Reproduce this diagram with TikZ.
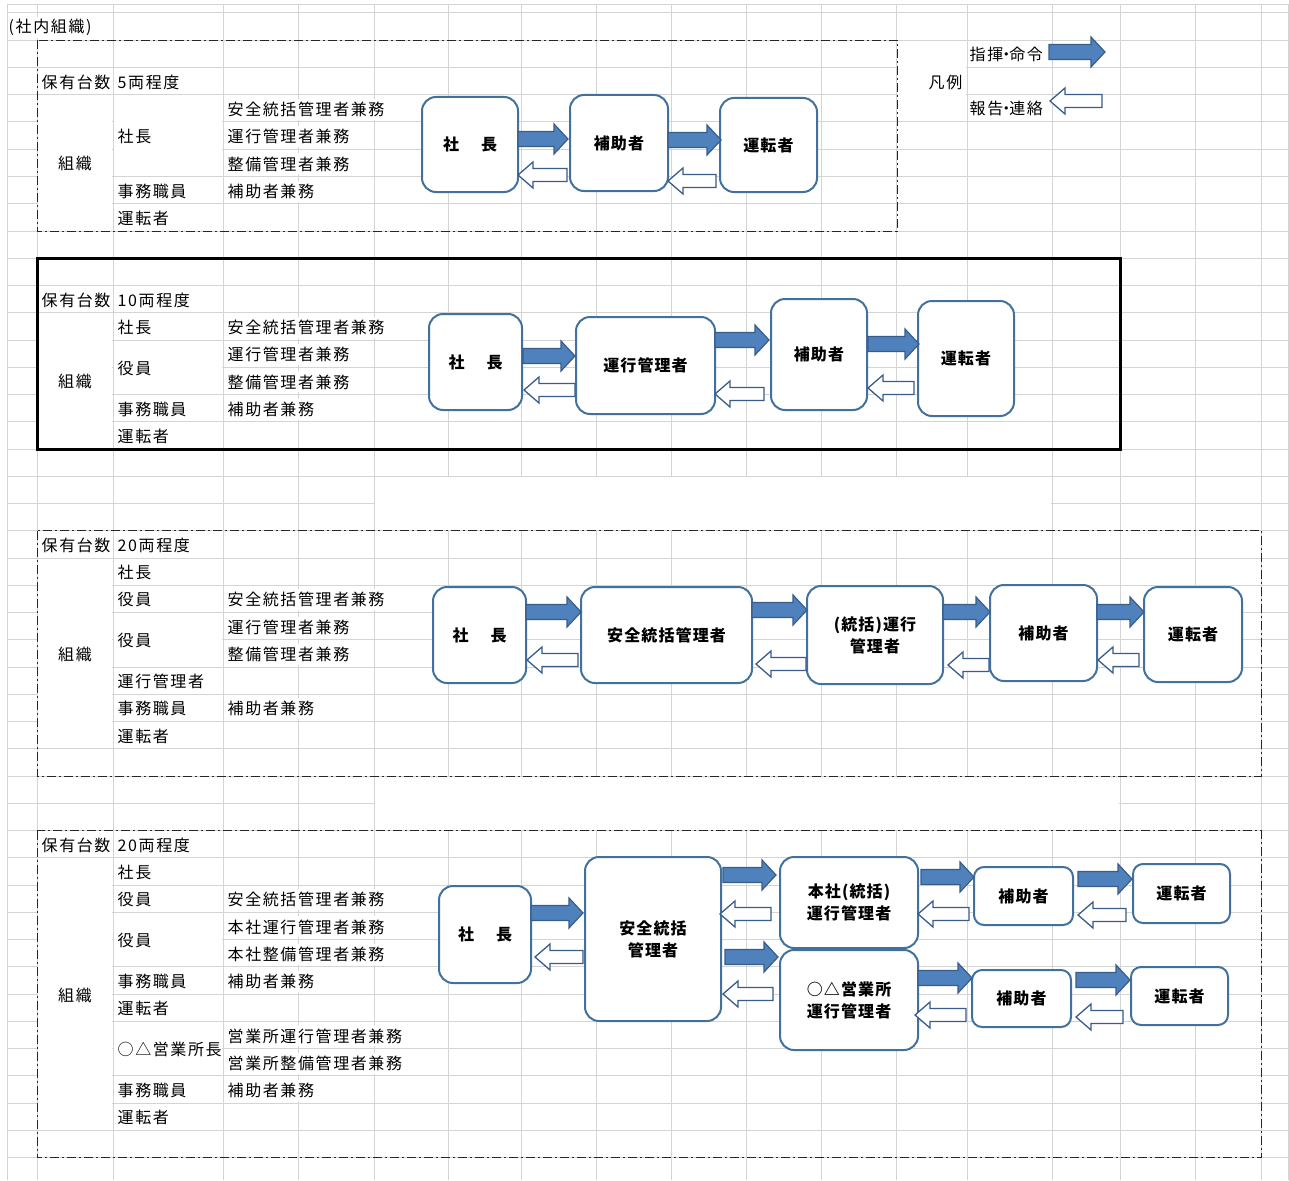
\documentclass[tikz,border=0pt]{standalone}
\usepackage{fontspec}
\newfontfamily\jp[LetterSpace=10]{Noto Sans CJK JP}
\newfontfamily\jpb[LetterSpace=7]{Noto Sans CJK JP}
\definecolor{gridc}{HTML}{D4D4D4}
\definecolor{boxc}{HTML}{41719C}
\definecolor{arrf}{HTML}{4F81BD}
\definecolor{arrd}{HTML}{385D8A}
\newcommand\FArrow[3]{\draw[farr] (#1,#3-7.5) -- ({#2-14},#3-7.5) -- ({#2-14},#3-15) -- (#2,#3) -- ({#2-14},#3+15) -- ({#2-14},#3+7.5) -- (#1,#3+7.5) -- cycle;}
\newcommand\OArrow[3]{\draw[oarr] (#1,#3-6.5) -- ({#2+15},#3-6.5) -- ({#2+15},#3-13) -- (#2,#3) -- ({#2+15},#3+13) -- ({#2+15},#3+6.5) -- (#1,#3+6.5) -- cycle;}
\newcommand\Mask[4]{\fill[white] ({#1+1},{#2+1}) rectangle ({#3-1},{#4-1});}
\newcommand\nd{\hspace{-5pt}・\hspace{-5pt}}
\tikzset{
 gridl/.style={draw=gridc, line width=1pt},
 celltxt/.style={anchor=west, font=\jp\fontsize{16}{16}\selectfont, fill=white, inner xsep=0.5pt, inner ysep=0pt, minimum height=21pt},
 ctrtxt/.style={font=\jp\fontsize{16}{16}\selectfont, inner sep=0pt},
 box/.style={draw=boxc, line width=2pt, fill=white, rounded corners=14pt, align=center, font=\jpb\bfseries\fontsize{16}{22}\selectfont, inner sep=0pt},
 sbox/.style={box, rounded corners=10pt},
 farr/.style={fill=arrf, draw=arrd, line width=1.2pt, line join=miter},
 oarr/.style={fill=white, draw=arrd, line width=1.3pt, line join=miter},
 dframe/.style={draw=black!85, line width=1pt, dash pattern=on 9pt off 3pt on 2pt off 3pt},
 tframe/.style={draw=black, line width=3pt}
}
\begin{document}
\begin{tikzpicture}[x=1pt,y=-1pt]
\useasboundingbox (0,0) rectangle (1289,1180);
\fill[white] (0,0) rectangle (1289,1180);
% ---------------- grid ----------------
\foreach \x in {7,37,113,223,298,374,448,521,596,671,746,821,896,967,1052,1120,1195,1261,1288}
  \draw[gridl] (\x,5) -- (\x,1180);
\draw[gridl] (7,5) -- (1289,5);
\foreach \k in {0,...,42}
  \draw[gridl] (7,{13+27.25*\k}) -- (1289,{13+27.25*\k});
% merged cells
\Mask{37}{94.75}{113}{231}
\Mask{113}{94.75}{223}{176.5}
\Mask{897}{40.25}{967}{122}
\Mask{37}{312.75}{113}{449}
\Mask{113}{340}{223}{394.5}
\Mask{374}{476.25}{1052}{530.75}
\Mask{37}{558}{113}{748.75}
\Mask{113}{612.5}{223}{667}
\Mask{374}{776}{1120}{830.5}
\Mask{37}{857.75}{113}{1130.25}
\Mask{113}{912.25}{223}{966.75}
\Mask{113}{1021.25}{223}{1075.75}
% ---------------- frames ----------------
\draw[dframe] (37,40.25) rectangle (897,231);
\draw[tframe] (37,258.25) rectangle (1120,449);
\draw[dframe] (37,530.75) rectangle (1261,776);
\draw[dframe] (37,830.5) rectangle (1261,1157.5);
% ---------------- texts ----------------
\node[celltxt] (title) at (8,27.6) {(社内組織)};
% section 1
\node[celltxt] (a1) at (41,82.1) {保有台数};
\node[celltxt] (a2) at (117,82.1) {5両程度};
\node[ctrtxt] (a3) at (75,163.5) {組織};
\node[celltxt] (a4) at (117,136) {社長};
\node[celltxt] (a5) at (227,109.4) {安全統括管理者兼務};
\node[celltxt] (a6) at (227,136.6) {運行管理者兼務};
\node[celltxt] (a7) at (227,163.9) {整備管理者兼務};
\node[celltxt] (a8) at (117,191.1) {事務職員};
\node[celltxt] (a9) at (227,191.1) {補助者兼務};
\node[celltxt] (a10) at (117,218.4) {運転者};
% legend
\node[celltxt, anchor=east] (l1) at (963,82) {凡例};
\node[celltxt] (l2) at (969,54.9) {指揮\nd 命令};
\node[celltxt] (l3) at (969,108.5) {報告\nd 連絡};
% section 2
\node[celltxt] (b1) at (41,300.1) {保有台数};
\node[celltxt] (b2) at (117,300.1) {10両程度};
\node[ctrtxt] (b3) at (75,381.9) {組織};
\node[celltxt] (b4) at (117,327.4) {社長};
\node[celltxt] (b5) at (227,327.4) {安全統括管理者兼務};
\node[celltxt] (b6) at (117,368) {役員};
\node[celltxt] (b7) at (227,354.6) {運行管理者兼務};
\node[celltxt] (b8) at (227,381.9) {整備管理者兼務};
\node[celltxt] (b9) at (117,409.1) {事務職員};
\node[celltxt] (b10) at (227,409.1) {補助者兼務};
\node[celltxt] (b11) at (117,436.4) {運転者};
% section 3
\node[celltxt] (c1) at (41,545.4) {保有台数};
\node[celltxt] (c2) at (117,545.4) {20両程度};
\node[ctrtxt] (c3) at (75,654.4) {組織};
\node[celltxt] (c4) at (117,572.6) {社長};
\node[celltxt] (c5) at (117,599.9) {役員};
\node[celltxt] (c6) at (227,599.9) {安全統括管理者兼務};
\node[celltxt] (c7) at (117,640.7) {役員};
\node[celltxt] (c8) at (227,627.1) {運行管理者兼務};
\node[celltxt] (c9) at (227,654.4) {整備管理者兼務};
\node[celltxt] (c10) at (117,681.6) {運行管理者};
\node[celltxt] (c11) at (117,708.9) {事務職員};
\node[celltxt] (c12) at (227,708.9) {補助者兼務};
\node[celltxt] (c13) at (117,736.1) {運転者};
% section 4
\node[celltxt] (d1) at (41,845.1) {保有台数};
\node[celltxt] (d2) at (117,845.1) {20両程度};
\node[ctrtxt] (d3) at (75,995) {組織};
\node[celltxt] (d4) at (117,872.4) {社長};
\node[celltxt] (d5) at (117,899.6) {役員};
\node[celltxt] (d6) at (227,899.6) {安全統括管理者兼務};
\node[celltxt] (d7) at (117,940.5) {役員};
\node[celltxt] (d8) at (227,926.9) {本社運行管理者兼務};
\node[celltxt] (d9) at (227,954.1) {本社整備管理者兼務};
\node[celltxt] (d10) at (117,981.4) {事務職員};
\node[celltxt] (d11) at (227,981.4) {補助者兼務};
\node[celltxt] (d12) at (117,1008.6) {運転者};
\node[celltxt] (d13) at (117,1049.5) {○△営業所長};
\node[celltxt] (d14) at (227,1035.9) {営業所運行管理者兼務};
\node[celltxt] (d15) at (227,1063.1) {営業所整備管理者兼務};
\node[celltxt] (d16) at (117,1090.4) {事務職員};
\node[celltxt] (d17) at (227,1090.4) {補助者兼務};
\node[celltxt] (d18) at (117,1117.6) {運転者};
% ---------------- legend arrows ----------------
\FArrow{1049}{1105}{52}
\OArrow{1102}{1050}{101}
% ---------------- section 1 diagram ----------------
\node[box, minimum width=96pt, minimum height=95pt] (s1a) at (470,144.5) {社\hspace{22pt}長};
\node[box, minimum width=98pt, minimum height=96pt] (s1b) at (619,143) {補助者};
\node[box, minimum width=97pt, minimum height=94pt] (s1c) at (768.5,145) {運転者};
\FArrow{518}{568}{139}
\FArrow{668}{721}{140}
\OArrow{567}{518}{175}
\OArrow{716}{668}{181}
% ---------------- section 2 diagram ----------------
\node[box, minimum width=93pt, minimum height=96pt] (s2a) at (475.5,362) {社\hspace{22pt}長};
\node[box, minimum width=139pt, minimum height=97pt] (s2b) at (645.5,365.5) {運行管理者};
\node[box, minimum width=96pt, minimum height=111pt] (s2c) at (819,354.5) {補助者};
\node[box, minimum width=96pt, minimum height=115pt] (s2d) at (966,358.5) {運転者};
\FArrow{523}{575}{356}
\FArrow{715}{769}{340}
\FArrow{868}{919}{344}
\OArrow{575}{524}{390}
\OArrow{764}{715}{394}
\OArrow{914}{868}{388}
% ---------------- section 3 diagram ----------------
\node[box, minimum width=93pt, minimum height=96pt] (s3a) at (479.5,635) {社\hspace{22pt}長};
\node[box, minimum width=171pt, minimum height=96pt] (s3b) at (666.5,635) {安全統括管理者};
\node[box, minimum width=136pt, minimum height=98pt] (s3c) at (875,635) {(統括)運行\\管理者};
\node[box, minimum width=107pt, minimum height=96pt] (s3d) at (1043.5,633) {補助者};
\node[box, minimum width=98pt, minimum height=95pt] (s3e) at (1193,634.5) {運転者};
\FArrow{526}{581}{612}
\FArrow{752}{807}{610}
\FArrow{943}{990}{612}
\FArrow{1097}{1144}{612}
\OArrow{578}{527}{660}
\OArrow{806}{756}{664}
\OArrow{989}{948}{665}
\OArrow{1139}{1098}{660}
% ---------------- section 4 diagram ----------------
\node[box, minimum width=92pt, minimum height=97pt] (s4a) at (485,934.5) {社\hspace{22pt}長};
\node[box, minimum width=136pt, minimum height=164pt] (s4b) at (653,939) {安全統括\\管理者};
\node[box, minimum width=138pt, minimum height=91pt] (s4c) at (849,902.5) {本社(統括)\\運行管理者};
\node[sbox, minimum width=99pt, minimum height=58pt] (s4d) at (1023.5,896) {補助者};
\node[sbox, minimum width=97pt, minimum height=59pt] (s4e) at (1181.5,893.5) {運転者};
\node[box, minimum width=138pt, minimum height=100pt] (s4f) at (849,1000) {○△営業所\\運行管理者};
\node[sbox, minimum width=99pt, minimum height=57pt] (s4g) at (1021.5,998.5) {補助者};
\node[sbox, minimum width=97pt, minimum height=58pt] (s4h) at (1179.5,996) {運転者};
\FArrow{531}{583}{913}
\FArrow{723}{776}{875}
\FArrow{725}{778}{957}
\FArrow{921}{974}{877}
\FArrow{1078}{1132}{879}
\FArrow{918}{972}{978}
\FArrow{1076}{1130}{980}
\OArrow{583}{535}{957}
\OArrow{771}{720}{914}
\OArrow{773}{723}{994}
\OArrow{969}{918}{914}
\OArrow{1126}{1078}{915}
\OArrow{966}{915}{1015}
\OArrow{1123}{1076}{1017}
\end{tikzpicture}
\end{document}
